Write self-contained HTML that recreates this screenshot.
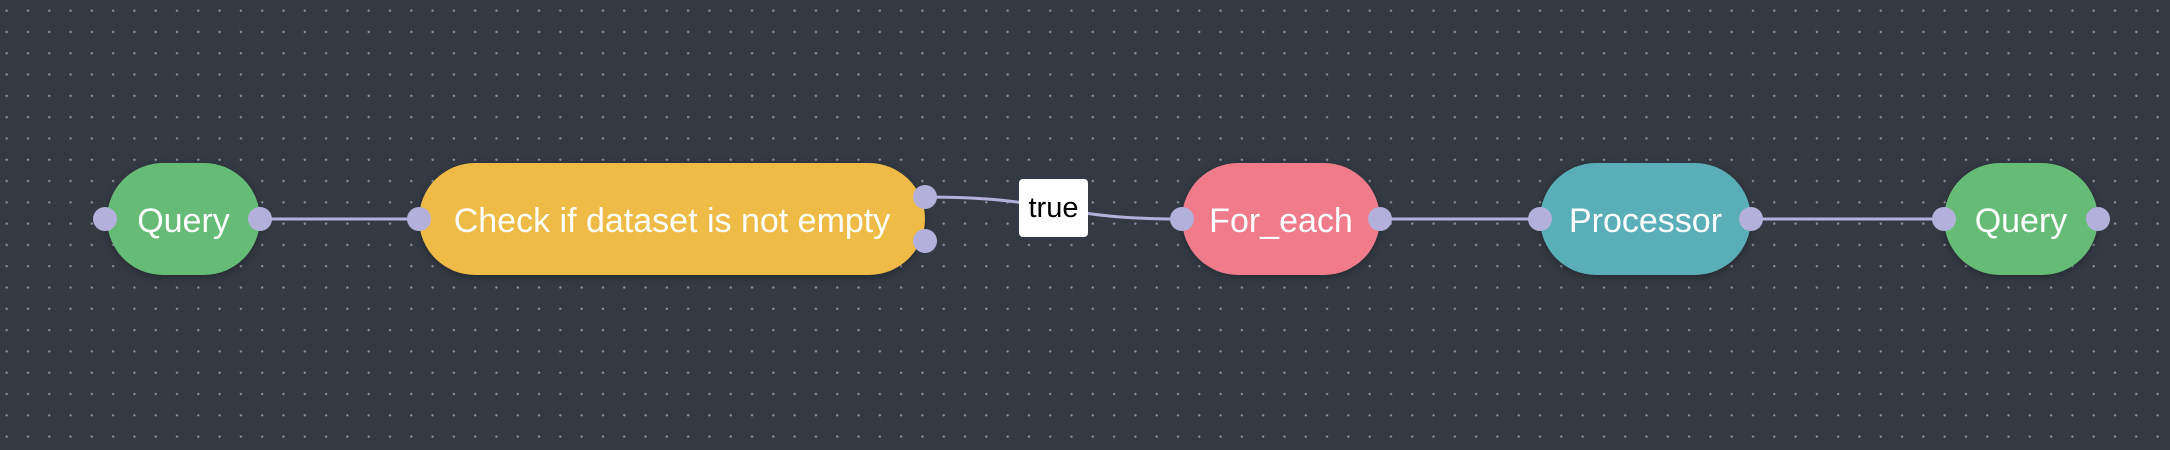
<!DOCTYPE html>
<html><head><style>
html,body{margin:0;padding:0}
body{width:2170px;height:450px;overflow:hidden;background-color:#343a43;
background-image:radial-gradient(circle,#8a9099 1px,transparent 1.3px);background-size:21.3px 21.3px;background-position:-4px 0px;position:relative;font-family:"Liberation Sans",sans-serif}
.n{position:absolute;top:163px;height:112px;border-radius:56px;color:#fff;font-size:34px;display:flex;align-items:center;justify-content:center;box-shadow:0 2px 8px rgba(0,0,0,.3);padding-top:4px;box-sizing:border-box}
.h{position:absolute;width:24px;height:24px;border-radius:50%;background:#b3b1db}
</style></head><body>
<svg width="2170" height="450" style="position:absolute;left:0;top:0">
<g stroke="#b3b1db" stroke-width="3" fill="none">
<line x1="260" y1="219" x2="419" y2="219"/>
<path d="M925 197 C1060 197 1050 219 1182 219"/>
<line x1="1380" y1="219" x2="1540" y2="219"/>
<line x1="1751" y1="219" x2="1944" y2="219"/>
</g></svg>
<div class="n" style="left:107px;width:153px;background:#66bb77">Query</div>
<div class="n" style="left:419px;width:506px;background:#efbb47">Check if dataset is not empty</div>
<div class="n" style="left:1182px;width:198px;background:#ef7b8b">For_each</div>
<div class="n" style="left:1540px;width:211px;background:#5aaeb8">Processor</div>
<div class="n" style="left:1944px;width:154px;background:#66bb77">Query</div>
<div style="position:absolute;left:1019px;top:179px;width:69px;height:58px;background:#fff;border-radius:4px;font-size:29px;display:flex;align-items:center;justify-content:center;color:#000">true</div>
<div class="h" style="left:93px;top:207px"></div>
<div class="h" style="left:248px;top:207px"></div>
<div class="h" style="left:407px;top:207px"></div>
<div class="h" style="left:913px;top:185px"></div>
<div class="h" style="left:913px;top:229px"></div>
<div class="h" style="left:1170px;top:207px"></div>
<div class="h" style="left:1368px;top:207px"></div>
<div class="h" style="left:1528px;top:207px"></div>
<div class="h" style="left:1739px;top:207px"></div>
<div class="h" style="left:1932px;top:207px"></div>
<div class="h" style="left:2086px;top:207px"></div>
</body></html>
